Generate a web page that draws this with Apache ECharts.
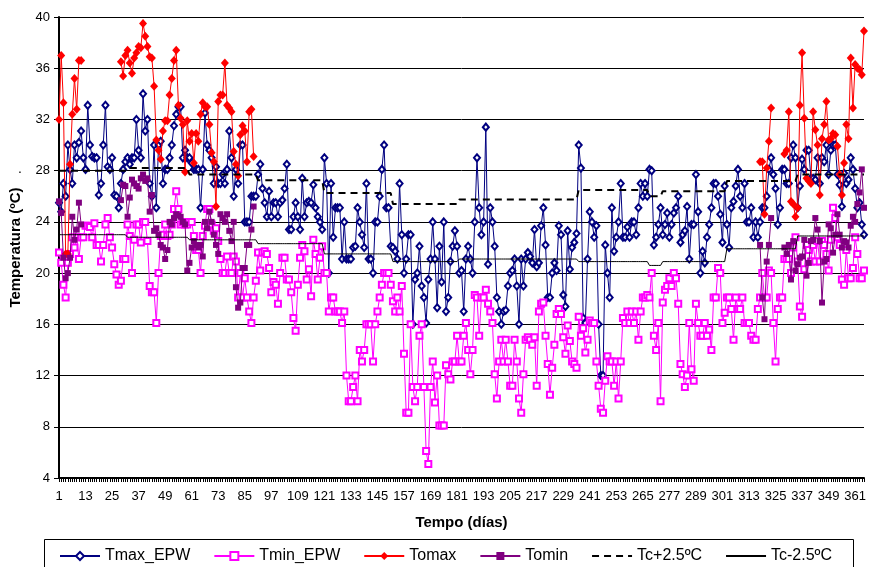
<!DOCTYPE html>
<html>
<head>
<meta charset="utf-8">
<script src="https://cdn.jsdelivr.net/npm/echarts@6/dist/echarts.min.js"></script>
<style>
html,body{margin:0;padding:0;background:#fff;}
#chart{width:869px;height:567px;}
</style>
</head>
<body>
<div id="chart"></div>
<script>
// ---------- DATA ----------
const dayCount = 365;
const xTickLabelStep = 12;
const yTicks = [4, 8, 12, 16, 20, 24, 28, 32, 36, 40];

const tmaxEPW = [
25.5,24.8,27.0,26.0,30.0,28.1,27.0,30.0,29.0,30.2,
31.1,29.0,28.1,33.1,30.0,29.1,29.0,29.0,26.1,27.0,
30.0,33.1,28.3,28.1,29.0,26.1,26.0,25.1,27.0,28.1,
28.7,29.0,28.5,29.0,29.0,32.0,29.6,29.0,34.0,31.1,
32.0,27.0,26.0,30.0,25.1,30.0,30.3,27.0,28.1,28.1,
29.0,30.0,31.5,32.4,33.0,33.0,29.0,29.6,29.0,29.0,
28.6,28.1,28.1,28.1,25.1,28.1,32.5,30.0,29.6,29.0,
27.0,28.3,27.0,27.0,27.7,27.0,28.1,31.1,29.0,26.0,
28.1,27.0,30.0,30.0,24.0,24.0,24.0,26.0,26.0,26.0,
27.7,28.5,26.6,25.5,24.4,26.4,24.4,25.5,25.5,24.4,
25.5,25.7,26.6,28.5,23.4,23.4,24.4,25.5,24.4,23.4,
27.4,24.4,25.5,25.6,25.5,26.9,25.1,24.4,24.0,23.4,
29.0,27.0,20.0,27.0,22.8,25.1,25.1,25.1,21.1,24.0,
21.1,21.1,21.1,22.0,22.1,25.1,24.0,23.0,22.0,27.0,
21.1,21.1,20.0,24.0,24.0,26.0,28.1,30.0,25.1,25.1,
22.1,22.0,21.7,21.1,27.0,23.0,20.0,21.1,23.0,23.0,
16.0,19.5,20.0,22.1,19.0,18.1,16.1,19.5,21.1,24.0,
21.1,17.3,22.1,19.3,24.0,17.0,18.1,20.9,22.1,23.3,
22.1,20.0,20.2,17.0,21.1,22.1,21.1,20.0,24.0,29.0,
25.1,23.0,24.0,31.4,20.7,25.1,24.0,22.1,18.1,17.0,
16.0,17.0,17.1,19.0,20.0,20.2,21.1,19.0,16.0,21.1,
19.0,21.1,21.6,21.3,20.8,23.4,20.5,20.8,23.7,25.1,
22.2,18.1,18.1,20.0,20.8,20.2,23.7,23.0,18.3,17.4,
23.3,20.3,22.0,22.4,23.1,30.0,28.2,16.5,16.1,21.1,
24.8,24.0,22.8,23.7,16.0,12.0,12.0,22.2,20.0,18.1,
25.1,21.7,22.8,24.0,27.0,22.8,22.8,23.6,22.8,24.0,
24.0,23.0,25.1,27.0,26.0,27.0,26.0,28.1,28.0,22.2,
22.8,23.8,25.1,23.0,23.8,24.7,22.8,23.8,24.7,25.1,
26.0,22.4,23.0,23.3,25.2,21.1,23.8,23.8,27.7,24.8,
20.0,21.7,20.8,22.8,23.8,25.1,27.0,27.0,26.0,24.6,
22.4,26.8,23.8,22.0,25.1,25.6,26.8,28.1,26.0,25.1,
27.0,24.0,24.0,25.1,22.8,24.0,22.8,24.0,25.1,25.1,
26.0,28.1,29.0,27.7,26.6,23.8,25.1,28.1,28.1,27.0,
27.0,29.0,30.0,29.0,25.1,26.8,28.9,28.1,29.6,29.6,
27.4,27.4,27.3,29.0,27.0,29.0,28.7,30.0,27.7,29.6,
30.0,30.0,27.7,26.9,25.2,27.8,27.0,27.3,29.0,28.1,
26.6,25.1,25.5,23.8,23.0
];

const tminEPW = [
21.6,20.8,19.1,18.1,20.8,21.5,22.8,22.0,22.8,21.1,
22.8,22.8,23.7,23.7,23.6,22.8,23.9,22.2,22.2,20.9,
22.2,23.8,24.3,22.8,22.0,20.7,19.9,19.1,19.4,21.1,
21.1,23.8,22.9,20.0,22.6,23.8,23.8,22.4,24.0,24.0,
22.5,19.0,18.5,18.5,16.1,20.0,22.9,23.0,23.8,22.9,
23.0,23.8,25.0,26.4,25.0,23.8,24.0,23.8,23.8,24.0,
24.0,22.9,21.8,21.8,20.0,22.9,23.7,25.0,25.0,23.8,
23.3,23.5,22.5,21.1,20.0,20.0,21.3,20.0,20.0,21.3,
20.9,18.1,20.0,18.1,19.6,18.1,17.0,16.1,18.1,19.4,
21.6,20.2,21.6,21.7,21.5,20.4,18.5,19.3,19.1,17.6,
20.0,21.2,21.2,19.5,19.5,18.5,16.5,15.5,19.1,21.2,
22.2,21.7,19.5,20.3,18.2,22.6,21.5,19.5,21.2,22.1,
20.0,20.0,17.0,18.1,18.1,17.0,17.0,17.0,16.1,17.0,
12.0,10.0,10.0,11.1,12.0,10.0,14.0,13.1,14.0,16.0,
16.0,16.0,13.1,16.0,17.0,18.1,19.1,20.0,20.0,20.0,
19.1,17.8,17.0,18.1,17.0,19.0,13.7,9.1,9.1,16.0,
11.1,10.0,11.1,15.1,16.0,11.1,6.1,5.1,11.1,13.1,
9.9,12.0,8.1,8.1,8.1,12.8,12.1,11.7,13.1,13.1,
15.1,13.1,13.1,15.1,16.1,14.0,12.1,14.0,18.3,18.1,
15.1,18.1,18.1,18.7,17.6,17.0,16.1,12.1,10.2,13.1,
14.8,13.1,14.8,13.1,11.2,11.2,14.8,13.1,10.2,9.1,
12.1,14.8,15.0,14.8,14.4,15.0,11.2,17.0,17.6,17.7,
15.1,12.9,10.5,12.6,14.4,16.8,17.2,16.8,15.0,13.7,
15.9,14.7,13.1,12.9,12.6,16.6,15.1,15.7,13.8,14.8,
16.3,16.1,16.1,13.1,11.2,9.4,9.1,11.6,13.5,13.1,
13.1,11.2,13.1,10.2,13.1,16.5,16.1,17.0,16.1,17.0,
16.1,17.0,14.8,17.0,18.1,18.1,18.3,18.1,20.0,15.1,
14.0,16.1,10.0,17.7,18.7,19.0,19.6,19.0,20.0,19.6,
17.6,12.9,12.1,11.1,12.0,16.1,12.5,11.6,17.6,16.1,
15.1,15.1,16.1,15.1,15.6,14.0,18.1,18.1,20.4,20.0,
16.1,16.9,18.1,18.1,17.2,14.8,18.1,17.2,17.2,18.1,
16.1,16.1,16.1,15.1,14.8,14.8,17.2,18.1,20.0,18.1,
18.1,20.2,20.0,16.1,13.1,17.2,18.1,18.1,21.1,21.1,
21.1,20.0,22.0,22.8,20.9,17.4,16.6,20.3,22.2,21.8,
20.9,22.2,20.9,22.5,20.9,22.5,22.2,21.5,20.2,22.6,
25.1,24.3,22.8,22.2,19.5,19.1,21.8,19.6,19.6,20.4,
22.8,21.5,19.6,19.6,20.2
];

// Measured (Tomax / Tomin) — runs of consecutive days, with their first day
const tomaxRun1Start = 1;
const tomaxRun1 = [32.0,37.0,33.3,21.5,21.5,28.5,32.4,35.2,32.8,36.6,36.6];
const tomaxRun2Start = 29;
const tomaxRun2 = [36.5,35.4,37.0,37.4,36.4,35.6,36.8,37.2,37.7,37.6,39.5,38.5,
  37.7,36.9,36.8,34.6,30.4,29.6,28.9,31.1,31.9,31.9,
  33.9,35.2,36.6,37.4,33.1,32.1,31.6,27.9,31.9,30.3,
  30.9,28.6,30.9,30.3,32.4,33.3,33.0,33.0,31.6,29.4,
  28.7,25.2,33.4,33.9,33.9,36.4,33.1,32.9,32.6,29.5,
  28.5,27.6,30.8,31.5,31.1,28.7,32.6,32.8,29.1];
const tomaxRun3Start = 318;
const tomaxRun3 = [28.7,28.7,24.6,28.2,30.3,32.9];
const tomaxRun4Start = 329;
const tomaxRun4 = [29.3,29.6,32.6,25.6,25.4,24.4,25.1,33.1,37.2,
  32.1,27.4,27.2,27.0,32.6,31.2,30.0,26.1,30.5,31.6,
  33.4,30.4,30.5,30.9,30.8,29.9,27.7,26.1,28.6,31.6,
  30.5,36.8,32.9,36.3,36.0,35.9,35.5,38.9];

const tominRun1Start = 1;
const tominRun1 = [25.6,24.7,21.2,19.6,20.0,21.2,24.4,22.6,23.4,25.5,23.8];
const tominRun2Start = 29;
const tominRun2 = [25.7,26.9,26.8,24.4,25.9,27.3,27.0,26.8,26.6,27.4,27.7,27.2,
  27.4,24.8,26.1,23.3,23.5,23.0,22.2,22.0,21.1,21.8,
  24.0,23.8,24.3,24.6,24.5,24.4,24.0,23.8,20.2,20.8,
  22.0,22.5,22.2,22.0,22.2,21.3,24.0,23.5,24.8,24.0,
  23.0,22.2,21.5,24.6,24.3,24.0,24.6,23.3,22.5,24.0,
  18.9,17.3,17.7,20.4,20.4,22.2,22.2,23.4,25.2];
const tominRun3Start = 318;
const tominRun3 = [22.2,18.1,16.4,20.9,22.2,24.3];
const tominRun4Start = 329;
const tominRun4 = [22.0,21.5,22.2,19.5,22.5,20.2,20.7,21.2,21.3,22.6,19.8,20.8,
  22.5,22.6,24.3,23.4,22.5,17.7,20.9,21.1,23.8,23.5,
  21.6,23.0,24.6,23.0,22.0,22.5,22.4,22.0,23.7,24.4,
  24.0,25.4,26.3,28.1,25.1];

// Comfort band steps: first day of each step and the level
const tcStepStart = [1, 32, 60, 91, 121, 152, 182, 236, 268, 274, 303, 335];
const tcPlusLevel  = [28.0, 28.2, 27.7, 27.25, 26.25, 25.4, 25.75, 26.5, 26.0, 26.4, 27.2, 27.7];
const tcMinusLevel = [23.0, 22.8, 22.6, 22.3, 21.5, 20.9, 21.1, 20.9, 20.6, 20.9, 21.9, 22.9];

// ---------- BUILD ----------
const days = [];
for (let d = 1; d <= dayCount; d++) days.push(String(d));

function runsToSeries(runs) {
  const out = new Array(dayCount).fill(null);
  runs.forEach(([start, vals]) => {
    vals.forEach((v, i) => { out[start - 1 + i] = v; });
  });
  return out;
}
function stepsToSeries(starts, levels) {
  const out = [];
  for (let d = 1; d <= dayCount; d++) {
    let k = 0;
    for (let j = 0; j < starts.length; j++) if (d >= starts[j]) k = j;
    out.push(levels[k]);
  }
  return out;
}

const tomax = runsToSeries([[tomaxRun1Start, tomaxRun1],[tomaxRun2Start, tomaxRun2],[tomaxRun3Start, tomaxRun3],[tomaxRun4Start, tomaxRun4]]);
const tomin = runsToSeries([[tominRun1Start, tominRun1],[tominRun2Start, tominRun2],[tominRun3Start, tominRun3],[tominRun4Start, tominRun4]]);
const tcPlus = stepsToSeries(tcStepStart, tcPlusLevel);
const tcMinus = stepsToSeries(tcStepStart, tcMinusLevel);

const FONT = 'Liberation Sans, Arial, sans-serif';

const chart = echarts.init(document.getElementById('chart'), null, {renderer: 'canvas'});
chart.setOption({
  animation: false,
  backgroundColor: '#fff',
  grid: {left: 59, right: 2, top: 17, bottom: 89, containLabel: false},
  xAxis: {
    type: 'category',
    data: days,
    boundaryGap: false,
    name: 'Tempo (días)',
    nameLocation: 'middle',
    nameGap: 37,
    nameTextStyle: {fontFamily: FONT, fontWeight: 'bold', fontSize: 15, color: '#000'},
    axisLine: {lineStyle: {color: '#000', width: 2}},
    axisTick: {show: true, interval: 0, length: 4, lineStyle: {color: '#000', width: 1}},
    axisLabel: {interval: xTickLabelStep - 1, fontFamily: FONT, fontSize: 13, color: '#000', margin: 12},
    splitLine: {show: false}
  },
  yAxis: {
    type: 'value',
    min: yTicks[0],
    max: yTicks[yTicks.length - 1],
    interval: yTicks[1] - yTicks[0],
    name: 'Temperatura (ºC)',
    nameLocation: 'middle',
    nameGap: 36,
    nameTextStyle: {fontFamily: FONT, fontWeight: 'bold', fontSize: 15, color: '#000'},
    axisLine: {show: true, lineStyle: {color: '#000', width: 2}},
    axisTick: {show: true, length: 5, lineStyle: {color: '#000'}},
    axisLabel: {fontFamily: FONT, fontSize: 13, color: '#000', margin: 9},
    splitLine: {show: true, lineStyle: {color: '#000', width: 1}}
  },
  legend: {
    left: 54, top: 543,
    itemGap: 23, itemWidth: 40, itemHeight: 10,
    textStyle: {fontFamily: FONT, fontSize: 16, color: '#000'},
    data: ['Tmax_EPW','Tmin_EPW','Tomax','Tomin','Tc+2.5ºC','Tc-2.5ºC']
  },
  graphic: [
    {type: 'rect', left: 42, top: 537, shape: {width: 809, height: 40}, style: {fill: 'none', stroke: '#000', lineWidth: 1}, z: -1},
    {type: 'text', left: 18, top: 162, style: {text: '.', font: '14px ' + FONT, fill: '#000'}}
  ],
  series: [
    {
      name: 'Tmax_EPW', type: 'line', data: tmaxEPW,
      symbol: 'emptyDiamond', symbolSize: [6, 7], showAllSymbol: true,
      lineStyle: {color: '#000080', width: 1},
      itemStyle: {color: '#000080', borderWidth: 1},
      z: 2
    },
    {
      name: 'Tmin_EPW', type: 'line', data: tminEPW,
      symbol: 'emptyRect', symbolSize: 6, showAllSymbol: true,
      lineStyle: {color: '#FF00FF', width: 1},
      itemStyle: {color: '#FF00FF', borderWidth: 1},
      z: 3
    },
    {
      name: 'Tomax', type: 'line', data: tomax, connectNulls: false,
      symbol: 'diamond', symbolSize: [8, 9], showAllSymbol: true,
      lineStyle: {color: '#FF0000', width: 1},
      itemStyle: {color: '#FF0000'},
      z: 4
    },
    {
      name: 'Tomin', type: 'line', data: tomin, connectNulls: false,
      symbol: 'rect', symbolSize: 6, showAllSymbol: true,
      lineStyle: {color: '#800080', width: 1},
      itemStyle: {color: '#800080'},
      z: 5
    },
    {
      name: 'Tc+2.5ºC', type: 'line', data: tcPlus,
      symbol: 'none', showSymbol: false,
      lineStyle: {color: '#000', width: 2, type: [7, 5]},
      itemStyle: {color: 'rgba(0,0,0,0)'},
      z: 6
    },
    {
      name: 'Tc-2.5ºC', type: 'line', data: tcMinus,
      symbol: 'none', showSymbol: false,
      lineStyle: {color: '#000', width: 1},
      itemStyle: {color: 'rgba(0,0,0,0)'},
      z: 7
    }
  ]
});
</script>
</body>
</html>
